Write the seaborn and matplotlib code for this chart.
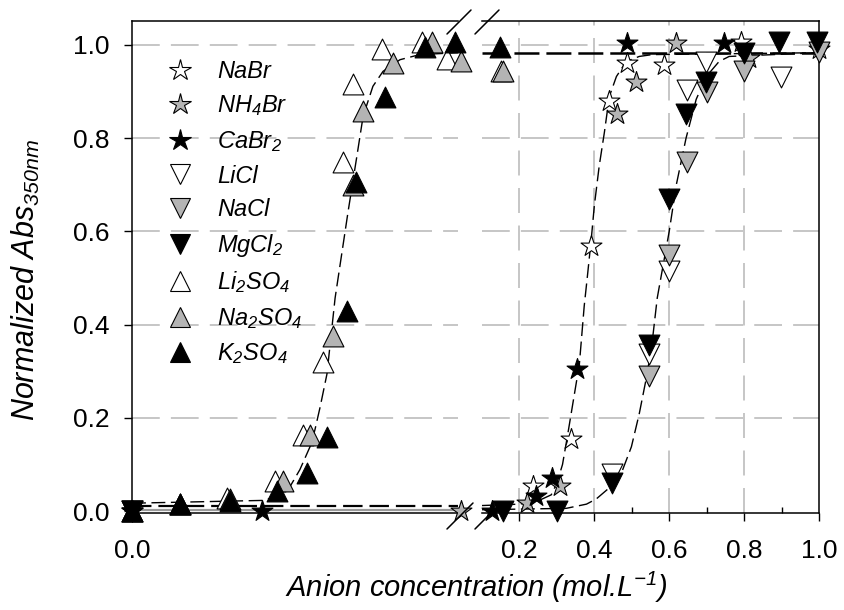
import numpy as np
import pandas as pd
import matplotlib
matplotlib.use("Agg")
import matplotlib.pyplot as plt
import seaborn as sns
from matplotlib.lines import Line2D
from matplotlib.ticker import FixedLocator, FixedFormatter, NullFormatter

# ---------------- data ----------------
# bromides (stars)
nabr_x = [0.0, 0.235, 0.339, 0.392, 0.440, 0.488, 0.587, 0.792, 1.0]
nabr_y = [0.0, 0.053, 0.155, 0.568, 0.879, 0.961, 0.957, 1.006, 0.99]
nh4br_x = [0.0, 0.101, 0.219, 0.307, 0.461, 0.512, 0.619, 0.813]
nh4br_y = [0.0, 0.0, 0.017, 0.053, 0.851, 0.921, 1.004, 0.972]
cabr2_x = [0.0, 0.040, 0.128, 0.245, 0.288, 0.355, 0.488, 0.747]
cabr2_y = [0.0, 0.0, 0.0, 0.032, 0.070, 0.304, 1.004, 1.004]
# chlorides (down triangles)
licl_x = [0.0, 0.448, 0.547, 0.600, 0.648, 0.699, 0.899]
licl_y = [0.0, 0.080, 0.336, 0.515, 0.904, 0.964, 0.930]
nacl_x = [0.0, 0.547, 0.600, 0.648, 0.701, 0.800, 1.0]
nacl_y = [0.0, 0.290, 0.549, 0.749, 0.898, 0.943, 0.985]
mgcl2_x = [0.0, 0.155, 0.299, 0.448, 0.547, 0.600, 0.645, 0.699, 0.800, 0.893, 0.995]
mgcl2_y = [0.0, 0.0, 0.0, 0.060, 0.357, 0.670, 0.851, 0.921, 0.983, 1.006, 1.006]
# sulfates (up triangles)
li2so4_x = [0.0, 0.0147, 0.029, 0.0439, 0.0525, 0.0586, 0.0647, 0.0678, 0.0767, 0.089, 0.0966, 0.152]
li2so4_y = [0.0, 0.015, 0.028, 0.064, 0.164, 0.319, 0.749, 0.915, 0.990, 1.006, 0.970, 0.943]
na2so4_x = [0.0, 0.0147, 0.030, 0.0463, 0.0546, 0.0617, 0.0678, 0.0709, 0.080, 0.092, 0.101, 0.157]
na2so4_y = [0.0, 0.015, 0.025, 0.064, 0.164, 0.376, 0.700, 0.857, 0.960, 1.006, 0.965, 0.943]
k2so4_x = [0.0, 0.0147, 0.030, 0.0445, 0.0537, 0.0598, 0.066, 0.0687, 0.0776, 0.090, 0.099, 0.147]
k2so4_y = [0.0, 0.015, 0.021, 0.043, 0.081, 0.160, 0.430, 0.706, 0.887, 0.996, 1.006, 0.996]

# fitted curves
fit_so4_x = [0.0, 0.0402, 0.0445, 0.0485, 0.0515, 0.0546, 0.0561, 0.0577, 0.0598, 0.0623,
             0.0663, 0.069, 0.0709, 0.0739, 0.077, 0.0822, 0.0883, 0.1]
fit_so4_y = [0.017, 0.023, 0.032, 0.053, 0.089, 0.138, 0.174, 0.223, 0.294, 0.457,
             0.643, 0.762, 0.847, 0.911, 0.943, 0.968, 0.979, 0.983]
fit_so4_plateau_x = [0.1, 1.0]
fit_so4_plateau_y = [0.983, 0.983]
fit_br_x = [0.1, 0.2, 0.25, 0.285, 0.30, 0.315, 0.328, 0.341, 0.36, 0.373, 0.381, 0.392,
            0.40, 0.413, 0.427, 0.44, 0.459, 0.485, 0.52, 0.555, 1.0]
fit_br_y = [0.012, 0.015, 0.022, 0.035, 0.06, 0.10, 0.16, 0.223, 0.315, 0.44, 0.50, 0.585,
            0.655, 0.74, 0.813, 0.889, 0.932, 0.964, 0.975, 0.979, 0.983]
fit_cl_x = [0.1, 0.325, 0.379, 0.405, 0.44, 0.472, 0.499, 0.52, 0.541, 0.555, 0.568,
            0.60, 0.619, 0.645, 0.672, 0.699, 0.733, 0.76, 1.0]
fit_cl_y = [0.003, 0.006, 0.015, 0.026, 0.05, 0.081, 0.138, 0.209, 0.294, 0.366, 0.457,
            0.60, 0.70, 0.80, 0.883, 0.932, 0.964, 0.975, 0.983]
base_left_x = [0.0, 0.1]
base_br_y = [0.012, 0.012]
base_cl_y = [0.003, 0.003]

series = [
    ("NaBr", nabr_x, nabr_y, "*", "white"),
    ("NH$_4$Br", nh4br_x, nh4br_y, "*", "#b4b4b4"),
    ("CaBr$_2$", cabr2_x, cabr2_y, "*", "black"),
    ("LiCl", licl_x, licl_y, "v", "white"),
    ("NaCl", nacl_x, nacl_y, "v", "#b4b4b4"),
    ("MgCl$_2$", mgcl2_x, mgcl2_y, "v", "black"),
    ("Li$_2$SO$_4$", li2so4_x, li2so4_y, "^", "white"),
    ("Na$_2$SO$_4$", na2so4_x, na2so4_y, "^", "#b4b4b4"),
    ("K$_2$SO$_4$", k2so4_x, k2so4_y, "^", "black"),
]

# ---------------- style ----------------
sns.set_theme(style="white")
plt.rcParams["font.family"] = ["Liberation Sans", "DejaVu Sans"]
plt.rcParams["mathtext.fontset"] = "custom"
plt.rcParams["mathtext.rm"] = "Liberation Sans:italic"
plt.rcParams["mathtext.it"] = "Liberation Sans:italic"
plt.rcParams["mathtext.default"] = "it"
plt.rcParams["lines.scale_dashes"] = False
plt.rcParams["text.color"] = "black"
plt.rcParams["axes.labelcolor"] = "black"
plt.rcParams["xtick.color"] = "black"
plt.rcParams["ytick.color"] = "black"

W, H = 844, 610
fig = plt.figure(figsize=(W / 100, H / 100), dpi=100)
fig.patch.set_facecolor("white")

def fx(px):
    return px / W

def fy(py):
    return 1 - py / H

axL = fig.add_axes([fx(132), fy(513), (458 - 132) / W, (513 - 21) / H])
axR = fig.add_axes([fx(482), fy(513), (819 - 482) / W, (513 - 21) / H], sharey=axL)

YLIM = (-0.004, 1.051)
axL.set_xlim(0.0, 0.1)
axR.set_xlim(0.1, 1.0)
axL.set_ylim(*YLIM)

grid_kw = dict(color="#c2c2c2", lw=1.3, dashes=(20, 8), zorder=0)
for ax in (axL, axR):
    ax.set_facecolor("white")
    for yv in [0.2, 0.4, 0.6, 0.8, 1.0]:
        ax.axhline(yv, **grid_kw)
for xv in [0.2, 0.4, 0.6, 0.8]:
    axR.axvline(xv, color="#c2c2c2", lw=1.3, dashes=(18, 9), zorder=0)

# fitted curves
line_kw = dict(color="black", lw=1.0, estimator=None, sort=False, legend=False, zorder=2)
sns.lineplot(x=base_left_x, y=base_cl_y, ax=axL, color="#9a9a9a", lw=1.6,
             estimator=None, sort=False, legend=False, zorder=1)
l = sns.lineplot(x=base_left_x, y=base_br_y, ax=axL, color="black", lw=1.6,
                 estimator=None, sort=False, legend=False, zorder=2).lines[-1]
l.set_dashes((14, 5))
l = sns.lineplot(x=fit_so4_x, y=fit_so4_y, ax=axL, **line_kw).lines[-1]
l.set_dashes((10, 4))
l = sns.lineplot(x=fit_so4_plateau_x, y=fit_so4_plateau_y, ax=axR, color="black", lw=1.8,
                 estimator=None, sort=False, legend=False, zorder=2).lines[-1]
l.set_dashes((18, 5))
l = sns.lineplot(x=fit_br_x, y=fit_br_y, ax=axR, **line_kw).lines[-1]
l.set_dashes((10, 4))
l = sns.lineplot(x=fit_cl_x, y=fit_cl_y, ax=axR, **line_kw).lines[-1]
l.set_dashes((10, 4))

# data points
for name, xs, ys, mk, fc in series:
    df = pd.DataFrame({"x": xs, "y": ys})
    sizes = 250 if mk == "*" else 225
    left = df[df.x <= 0.102]
    right = df[df.x > 0.102]
    for ax, d in ((axL, left), (axR, right)):
        if len(d):
            sns.scatterplot(data=d, x="x", y="y", ax=ax, marker=mk, s=sizes, color=fc,
                            edgecolor="black", linewidth=0.8, clip_on=False, zorder=3,
                            legend=False)

# spines and ticks
for ax in (axL, axR):
    ax.set_xlabel("")
    ax.set_ylabel("")
    for s in ax.spines.values():
        s.set_color("black")
        s.set_linewidth(1.1)
axL.spines["right"].set_visible(False)
axR.spines["left"].set_visible(False)

TICK_FS = 19
axL.yaxis.set_major_locator(FixedLocator([0.0, 0.2, 0.4, 0.6, 0.8, 1.0]))
axL.yaxis.set_major_formatter(FixedFormatter(["0.0", "0.2", "0.4", "0.6", "0.8", "1.0"]))
axL.xaxis.set_major_locator(FixedLocator([0.0]))
axL.xaxis.set_major_formatter(FixedFormatter(["0.0"]))
axL.tick_params(axis="y", which="major", direction="out", length=6, width=1, pad=10,
                labelsize=TICK_FS, left=True, labelcolor="black")
axL.tick_params(axis="x", which="major", direction="out", length=0, pad=19,
                labelsize=TICK_FS, bottom=True, labelcolor="black")

axR.xaxis.set_major_locator(FixedLocator([0.2, 0.4, 0.6, 0.8, 1.0]))
axR.xaxis.set_major_formatter(FixedFormatter(["0.2", "0.4", "0.6", "0.8", "1.0"]))
axR.xaxis.set_minor_locator(FixedLocator([0.3, 0.5, 0.7, 0.9]))
axR.xaxis.set_minor_formatter(NullFormatter())
axR.tick_params(axis="x", which="major", direction="out", length=6, width=1, pad=13,
                labelsize=TICK_FS, bottom=True, labelcolor="black")
axR.tick_params(axis="x", which="minor", direction="in", length=4, width=1, bottom=True)
axR.tick_params(axis="y", which="both", left=False, right=False, labelleft=False)

# break marks
for x0 in (447, 475):
    fig.add_artist(Line2D([fx(x0), fx(x0 + 24)], [fy(34), fy(10)], color="black", lw=1.1))
    fig.add_artist(Line2D([fx(x0), fx(x0 + 26)], [fy(529), fy(503)], color="black", lw=1.1))

# axis labels
fig.text(fx(26), fy(280), "Normalized Abs$_{350nm}$", rotation=90, ha="center", va="center",
         fontsize=22, style="italic", color="black")
fig.text(fx(476), fy(587), "Anion concentration (mol.L$^{-1}$)", ha="center", va="center",
         fontsize=21, style="italic", color="black")

# legend
handles = [Line2D([], [], marker=mk, linestyle="none", markerfacecolor=fc,
                  markeredgecolor="black", markeredgewidth=0.8,
                  markersize=16 if mk == "*" else 15)
           for _, _, _, mk, fc in series]
labels = [s[0] for s in series]
leg = axL.legend(handles, labels, loc="upper left", bbox_to_anchor=(0.048, 0.94), frameon=False,
                 prop={"size": 17, "style": "italic"}, labelspacing=0.45, handlelength=1.9,
                 handletextpad=0.65, borderaxespad=0)
for t in leg.get_texts():
    t.set_color("black")

fig.savefig("out.png", dpi=100, facecolor="white")
